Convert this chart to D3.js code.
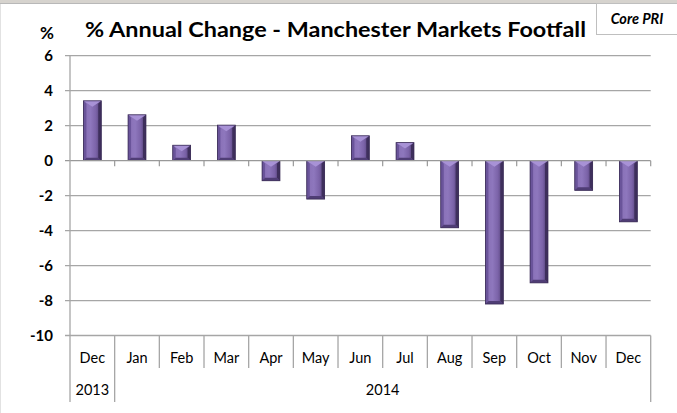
<!DOCTYPE html>
<html><head><meta charset="utf-8">
<script src="https://cdn.jsdelivr.net/npm/d3@7"></script>
<style>html,body{margin:0;padding:0;background:#fff;}svg{display:block;}</style>
</head><body>
<script>
const months = ["Dec","Jan","Feb","Mar","Apr","May","Jun","Jul","Aug","Sep","Oct","Nov","Dec"];
const years = [{label:"2013", from:0, to:0},{label:"2014", from:1, to:12}];
const values = [3.42, 2.62, 0.88, 2.03, -1.15, -2.2, 1.42, 1.03, -3.84, -8.2, -6.99, -1.7, -3.5];
const yTicks = [6,4,2,0,-2,-4,-6,-8,-10];
const title = "% Annual Change - Manchester Markets Footfall";

const W=677,H=413;
const svg=d3.select("body").append("svg").attr("width",W).attr("height",H);
const font="Lato, 'Open Sans', sans-serif";

// frame decorations
svg.append("rect").attr("x",0).attr("y",0).attr("width",W).attr("height",H).attr("fill","#fff");
svg.append("rect").attr("x",0).attr("y",0).attr("width",W).attr("height",3).attr("fill","#d6d3ce");
svg.append("line").attr("x1",0).attr("x2",W).attr("y1",3.5).attr("y2",3.5).attr("stroke","#b8b8b8");
svg.append("line").attr("x1",0.5).attr("x2",0.5).attr("y1",4).attr("y2",H).attr("stroke","#e2e2e2");

const x=d3.scaleBand().domain(d3.range(months.length)).range([70,650.7]).paddingInner(0.6).paddingOuter(0.3);
const y=d3.scaleLinear().domain([-10,6]).range([335.5,55.7]);
const step=x.step();
const xl=x.range()[0], xr=x.range()[1];

// grid
const g=svg.append("g");
g.selectAll("line.grid").data(yTicks.filter(d=>d!==0)).join("line")
 .attr("x1",65).attr("x2",xr).attr("y1",d=>y(d)).attr("y2",d=>y(d))
 .attr("stroke","#a6a6a6").attr("stroke-width",1.3);

// y labels
svg.selectAll("text.yl").data(yTicks).join("text")
 .attr("x",53).attr("y",d=>y(d)).attr("dy","0.36em").attr("text-anchor","end")
 .attr("font-family",font).attr("font-weight","bold").attr("font-size",15).attr("fill","#000")
 .text(d=>d);

// bars with bevel
const defs=svg.append("defs");
const grad=defs.append("linearGradient").attr("id","face").attr("x1","0").attr("x2","1").attr("y1","0").attr("y2","0");
[[0,"#5d4787"],[0.15,"#8a72b8"],[0.4,"#8e77bd"],[0.7,"#7b63a8"],[1,"#4d3b70"]].forEach(s=>grad.append("stop").attr("offset",s[0]).attr("stop-color",s[1]));

const bars=svg.append("g");
values.forEach((v,i)=>{
  const x0=x(i), x1=x0+x.bandwidth();
  const yt=y(Math.max(0,v)), yb=y(Math.min(0,v));
  const b=3, tb=Math.min(6,(yb-yt)/2);
  const cx=(x0+x1)/2;
  const bg=bars.append("g");
  bg.append("rect").attr("x",x0).attr("y",yt).attr("width",x1-x0).attr("height",yb-yt).attr("fill","url(#face)");
  // left bevel
  bg.append("polygon").attr("points",[[x0,yt],[x0+b,yt+b],[x0+b,yb-b],[x0,yb]].join(" ")).attr("fill","#6a549a");
  // right bevel
  bg.append("polygon").attr("points",[[x1,yt],[x1-b,yt+b],[x1-b,yb-b],[x1,yb]].join(" ")).attr("fill","#3e2f5c");
  // top bevel (pointed)
  bg.append("polygon").attr("points",[[x0,yt],[x1,yt],[cx,yt+tb]].join(" ")).attr("fill","#a892d6");
  // bottom bevel
  bg.append("polygon").attr("points",[[x0,yb],[x1,yb],[x1-b,yb-b],[x0+b,yb-b]].join(" ")).attr("fill","#4f3d75");
  bg.append("rect").attr("x",x0).attr("y",yt).attr("width",x1-x0).attr("height",yb-yt).attr("fill","none").attr("stroke","#3a2c55").attr("stroke-width",0.8);
});

// zero axis with ticks
svg.append("line").attr("x1",65).attr("x2",xr).attr("y1",y(0)).attr("y2",y(0)).attr("stroke","#999").attr("stroke-width",1.3);
svg.selectAll("line.ztick").data(d3.range(1,months.length+1)).join("line")
 .attr("x1",k=>xl+k*step).attr("x2",k=>xl+k*step).attr("y1",y(0)).attr("y2",y(0)+5.5)
 .attr("stroke","#999").attr("stroke-width",1.2);

// y axis line
svg.append("line").attr("x1",xl).attr("x2",xl).attr("y1",y(6)).attr("y2",402).attr("stroke","#a6a6a6").attr("stroke-width",1.3);
// bottom axis boundary lines
const longB=new Set([0,1,months.length]);
svg.selectAll("line.cb").data(d3.range(1,months.length+1)).join("line")
 .attr("x1",k=>xl+k*step).attr("x2",k=>xl+k*step).attr("y1",y(-10)).attr("y2",k=>longB.has(k)?402:368)
 .attr("stroke","#a6a6a6").attr("stroke-width",1.3);

// month labels
svg.selectAll("text.m").data(months).join("text")
 .attr("x",(d,i)=>x(i)+x.bandwidth()/2).attr("y",358).attr("dy","0.36em").attr("text-anchor","middle")
 .attr("font-family",font).attr("font-size",14.5).attr("fill","#000").text(d=>d);
// year labels
svg.selectAll("text.yr").data(years).join("text")
 .attr("x",d=>(xl+d.from*step+xl+(d.to+1)*step)/2).attr("y",390).attr("dy","0.36em").attr("text-anchor","middle")
 .attr("font-family",font).attr("font-size",14.5).attr("fill","#000").text(d=>d.label);

// title
svg.append("text").attr("x",85).attr("y",37).attr("font-family",font).attr("font-weight","bold")
 .attr("font-size",21.5).attr("textLength",501).attr("lengthAdjust","spacingAndGlyphs").attr("fill","#000").text(title);
svg.append("text").attr("x",47).attr("y",39).attr("text-anchor","middle").attr("font-family",font).attr("font-weight","bold")
 .attr("font-size",17).attr("fill","#000").text("%");

// Core PRI box
svg.append("rect").attr("x",596.5).attr("y",3.5).attr("width",82).attr("height",31).attr("fill","#fff").attr("stroke","#bfbfbf");
svg.append("text").attr("x",637).attr("y",24).attr("text-anchor","middle").attr("font-family",font).attr("font-weight","bold")
 .attr("font-style","italic").attr("font-size",14.5).attr("fill","#000").text("Core PRI");
</script>
</body></html>
